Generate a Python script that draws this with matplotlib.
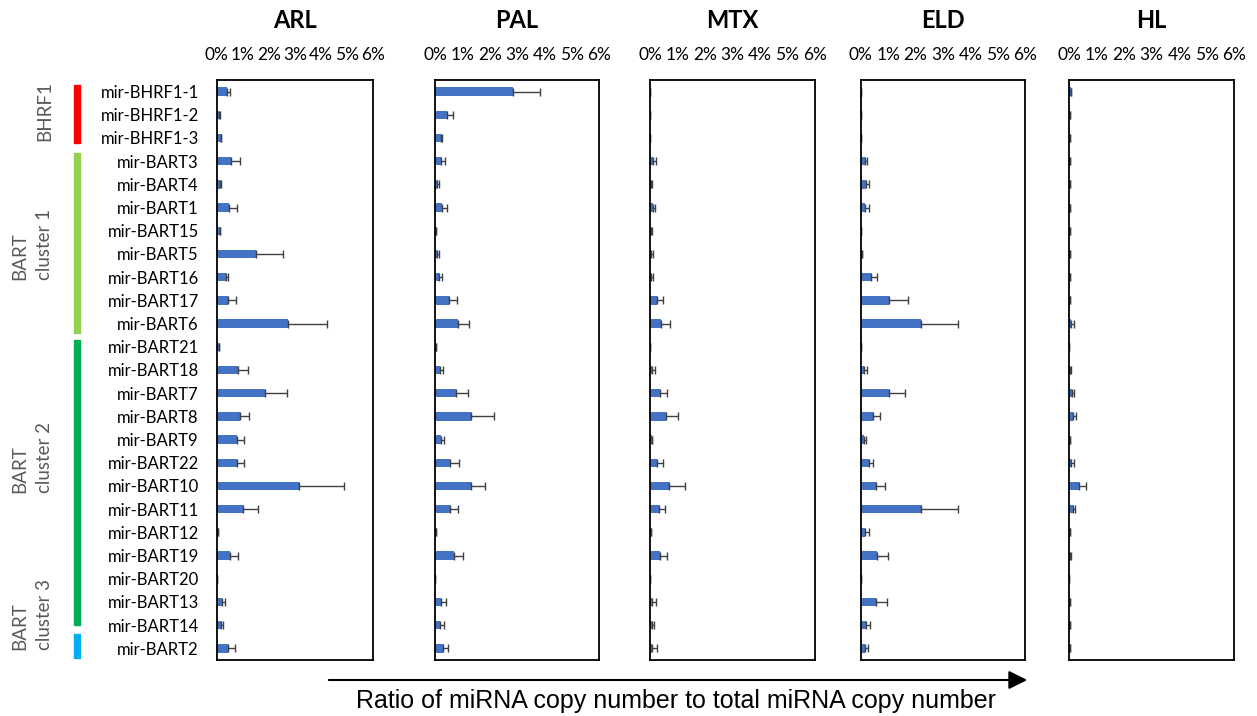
import numpy as np
import matplotlib
matplotlib.use("Agg")
import matplotlib.pyplot as plt
from matplotlib.patches import Rectangle, FancyArrowPatch

plt.rcParams["font.family"] = ["Lato", "DejaVu Sans"]

W, H = 1257, 716

MIRNAS = ["mir-BHRF1-1", "mir-BHRF1-2", "mir-BHRF1-3", "mir-BART3", "mir-BART4",
          "mir-BART1", "mir-BART15", "mir-BART5", "mir-BART16", "mir-BART17",
          "mir-BART6", "mir-BART21", "mir-BART18", "mir-BART7", "mir-BART8",
          "mir-BART9", "mir-BART22", "mir-BART10", "mir-BART11", "mir-BART12",
          "mir-BART19", "mir-BART20", "mir-BART13", "mir-BART14", "mir-BART2"]

PANELS = ["ARL", "PAL", "MTX", "ELD", "HL"]

# mean ratio (%) and upper error (%) per cell line
arl_vals = [0.38, 0.09, 0.15, 0.54, 0.13, 0.48, 0.12, 1.49, 0.34, 0.42, 2.74, 0.08, 0.80,
            1.85, 0.89, 0.77, 0.77, 3.17, 1.02, 0.05, 0.51, 0.03, 0.19, 0.16, 0.45]
arl_err = [0.13, 0.02, 0.03, 0.35, 0.03, 0.31, 0.02, 1.06, 0.10, 0.32, 1.50, 0.01, 0.41,
           0.83, 0.36, 0.29, 0.29, 1.72, 0.57, 0.01, 0.32, 0.0, 0.13, 0.07, 0.25]
pal_vals = [2.86, 0.45, 0.21, 0.21, 0.09, 0.24, 0.04, 0.06, 0.16, 0.51, 0.85, 0.02, 0.18,
            0.75, 1.33, 0.21, 0.55, 1.30, 0.55, 0.04, 0.68, 0.01, 0.22, 0.18, 0.28]
pal_err = [0.97, 0.22, 0.06, 0.15, 0.05, 0.21, 0.01, 0.10, 0.10, 0.29, 0.40, 0.0, 0.10,
           0.44, 0.84, 0.13, 0.31, 0.54, 0.29, 0.01, 0.35, 0.0, 0.18, 0.16, 0.21]
mtx_vals = [0.01, 0.0, 0.0, 0.10, 0.05, 0.10, 0.05, 0.05, 0.05, 0.25, 0.40, 0.0, 0.08,
            0.35, 0.57, 0.07, 0.27, 0.70, 0.31, 0.03, 0.35, 0.01, 0.07, 0.06, 0.08]
mtx_err = [0.0, 0.0, 0.0, 0.11, 0.01, 0.09, 0.01, 0.06, 0.05, 0.23, 0.33, 0.0, 0.11,
           0.26, 0.43, 0.02, 0.21, 0.57, 0.22, 0.0, 0.26, 0.0, 0.15, 0.10, 0.16]
eld_vals = [0.0, 0.0, 0.0, 0.16, 0.19, 0.17, 0.02, 0.05, 0.36, 1.04, 2.20, 0.02, 0.13,
            1.04, 0.44, 0.12, 0.29, 0.56, 2.20, 0.16, 0.58, 0.0, 0.55, 0.19, 0.15]
eld_err = [0.0, 0.0, 0.0, 0.08, 0.11, 0.12, 0.0, 0.0, 0.25, 0.69, 1.36, 0.0, 0.09,
           0.58, 0.28, 0.09, 0.17, 0.33, 1.36, 0.14, 0.42, 0.0, 0.42, 0.15, 0.13]
hl_vals = [0.07, 0.01, 0.01, 0.02, 0.01, 0.02, 0.01, 0.01, 0.03, 0.04, 0.07, 0.0, 0.03,
           0.10, 0.12, 0.03, 0.07, 0.34, 0.15, 0.01, 0.04, 0.0, 0.01, 0.02, 0.03]
hl_err = [0.0, 0.0, 0.0, 0.0, 0.0, 0.0, 0.0, 0.0, 0.0, 0.0, 0.11, 0.0, 0.02,
          0.08, 0.11, 0.01, 0.10, 0.27, 0.05, 0.0, 0.01, 0.0, 0.0, 0.0, 0.0]

VALUES = [arl_vals, pal_vals, mtx_vals, eld_vals, hl_vals]
ERRORS = [arl_err, pal_err, mtx_err, eld_err, hl_err]

XTICKS = [0, 1, 2, 3, 4, 5, 6]

GROUP_LABELS = ["BHRF1", "BART\ncluster 1", "BART\ncluster 2", "BART\ncluster 3"]
GROUP_COLOURS = ["#FF0000", "#92D050", "#00B050", "#00B0F0"]

BAR_BLUE = "#4472C4"

# panel boxes in pixels (left, right)
boxes = [(216.7, 373.3), (435, 599.3), (650, 815), (860.7, 1025.3), (1069.3, 1234.3)]
top_px, bot_px = 80, 660

fig = plt.figure(figsize=(W / 100, H / 100), dpi=100)
axes = []
y = np.arange(len(MIRNAS))
for i, (name, vals, errs) in enumerate(zip(PANELS, VALUES, ERRORS)):
    l, r = boxes[i]
    ax = fig.add_axes([l / W, 1 - bot_px / H, (r - l) / W, (bot_px - top_px) / H])
    ax.barh(y, vals, height=0.36, color=BAR_BLUE,
            xerr=[np.zeros(len(errs)), errs],
            error_kw=dict(ecolor="#404040", elinewidth=1, capsize=3, capthick=1))
    ax.set_xlim(0, 6)
    ax.set_ylim(len(MIRNAS) - 0.5, -0.5)
    ax.xaxis.tick_top()
    ax.set_xticks(XTICKS)
    ax.set_xticklabels([f"{t}%" for t in XTICKS], fontsize=12.5)
    ax.tick_params(axis="x", length=0, pad=12)
    ax.set_yticks(y)
    if i == 0:
        ax.set_yticklabels(MIRNAS, fontsize=12)
        ax.tick_params(axis="y", length=0, pad=13)
    else:
        ax.set_yticklabels([])
        ax.tick_params(axis="y", length=0)
    for sp in ax.spines.values():
        sp.set_linewidth(1.3)
    ax.text(0.5, 1 + 60 / (bot_px - top_px), name, transform=ax.transAxes,
            ha="center", va="center", fontsize=17, weight="bold")
    axes.append(ax)

# coloured cluster bars beside the row labels
ax0 = axes[0]
tr = ax0.get_yaxis_transform()
spans = [(-0.3, 2.2), (2.63, 10.42), (10.7, 23.0), (23.4, 24.4)]
for (y0, y1), c in zip(spans, GROUP_COLOURS):
    ax0.add_patch(Rectangle((-0.909, y0), 0.038, y1 - y0, transform=tr,
                            color=c, clip_on=False))

# cluster labels (rotated, bottom aligned in pixels)
label_pos = [(45, 141), (32, 280), (32, 493), (32, 650)]
for txt, (xp, yp) in zip(GROUP_LABELS, label_pos):
    fig.text(xp / W, 1 - yp / H, txt, rotation=90, ha="center", va="bottom",
             multialignment="left", fontsize=13.5, color="#595959", linespacing=1.5)

# axis arrow and shared label
fig.add_artist(FancyArrowPatch((326 / W, 1 - 680 / H), (1030 / W, 1 - 680 / H),
                               transform=fig.transFigure, arrowstyle="-|>",
                               mutation_scale=28, lw=1.5, color="black"))
fig.text(676 / W, 1 - 701 / H, "Ratio of miRNA copy number to total miRNA copy number",
         ha="center", va="center", fontsize=18, family="Liberation Sans")

fig.savefig("out.png", dpi=100)
